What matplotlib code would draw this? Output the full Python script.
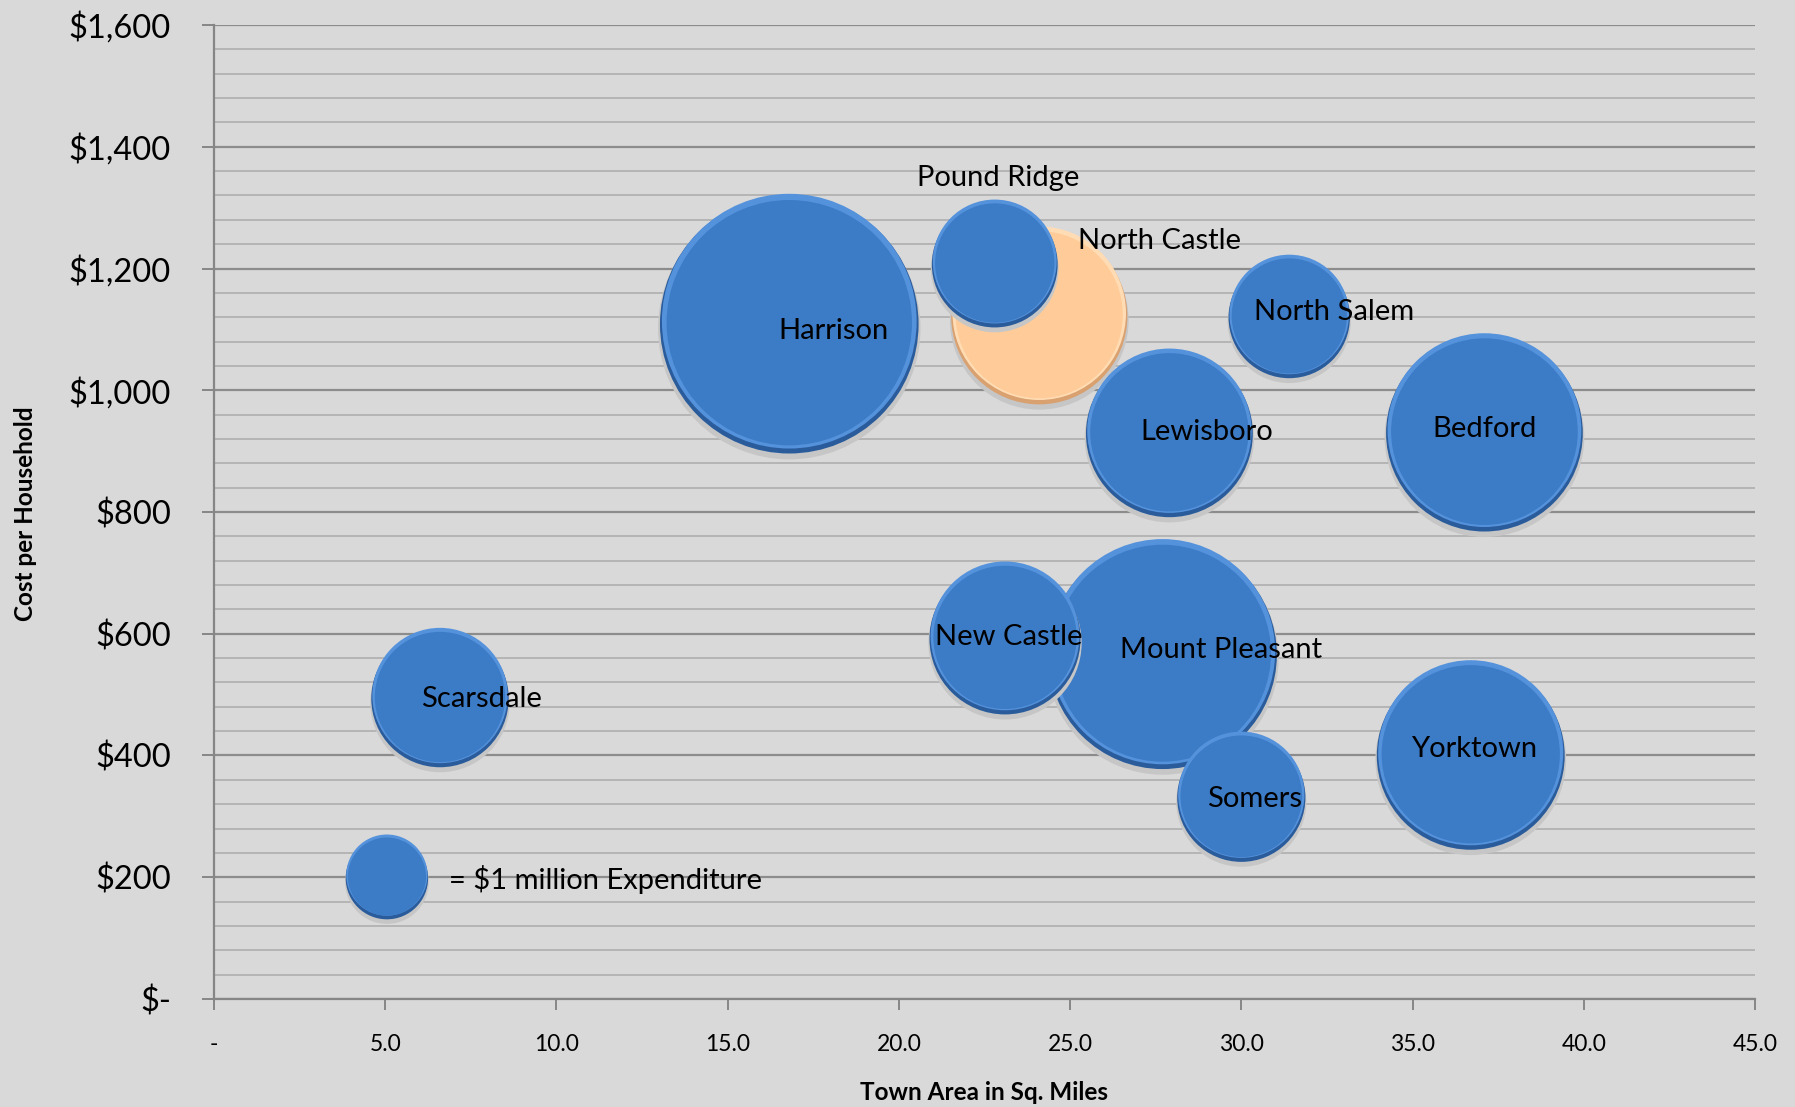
import matplotlib
matplotlib.use("Agg")
import matplotlib.pyplot as plt
import numpy as np
from matplotlib.ticker import MultipleLocator, FuncFormatter

plt.rcParams['font.family'] = ['Lato', 'DejaVu Sans']

# town data: area (sq. miles), cost per household ($), expenditure ($ million)
towns = ['Harrison', 'Mount Pleasant', 'Bedford', 'Yorktown', 'North Castle',
         'Lewisboro', 'New Castle', 'Scarsdale', 'Somers', 'Pound Ridge', 'North Salem']
area = [16.8, 27.7, 37.1, 36.7, 24.1, 27.9, 23.1, 6.6, 30.0, 22.8, 31.4]
cost = [1111, 568, 932, 402, 1124, 931, 594, 496, 333, 1209, 1122]
spend = [9.85, 7.7, 5.7, 5.2, 4.57, 4.1, 3.36, 2.78, 2.42, 2.33, 2.17]
highlight = 'North Castle'

# label positions
label_x = [18.1, 29.4, 37.1, 36.8, 27.6, 29.0, 23.2, 7.8, 30.4, 22.9, 32.7]
label_y = [1098, 573, 936, 410, 1245, 932, 594, 493, 329, 1348, 1128]

# reference bubble
ref_x, ref_y, ref_size = 5.05, 201, 1.0

# (dark rim, light rim, face)
blue_cols = ('#2a5c9c', '#5592dc', '#3c7bc6')
orange_cols = ('#d9a070', '#ffdcb4', '#ffcc99')
s_per_million = 3520


def bubble(ax, x, y, s, cols, z):
    ax.scatter(x, y - 9, s=s * 1.03, color='#c6c6c6', edgecolors='none', zorder=z)
    ax.scatter(x, y - 2.5, s=s, color=cols[0], edgecolors='none', zorder=z + 0.1)
    ax.scatter(x, y + 2.5, s=s * 0.97, color=cols[1], edgecolors='none', zorder=z + 0.2)
    ax.scatter(x, y, s=s * 0.9, color=cols[2], edgecolors='none', zorder=z + 0.3)


fig = plt.figure(figsize=(17.95, 11.07), dpi=100)
fig.patch.set_facecolor('#d9d9d9')
ax = fig.add_axes([0.1192, 0.0976, 0.8585, 0.8798])
ax.set_facecolor('#d9d9d9')

ax.set_xlim(0, 45)
ax.set_ylim(0, 1600)

ax.yaxis.set_major_locator(MultipleLocator(200))
ax.yaxis.set_minor_locator(MultipleLocator(40))
ax.xaxis.set_major_locator(MultipleLocator(5))
ax.grid(True, which='major', axis='y', color='#8c8c8c', lw=1.6, zorder=0)
ax.grid(True, which='minor', axis='y', color='#b4b4b4', lw=1.4, zorder=0)
ax.set_axisbelow(True)

for sp in ['top', 'right']:
    ax.spines[sp].set_visible(False)
for sp in ['left', 'bottom']:
    ax.spines[sp].set_color('#868686')
    ax.spines[sp].set_linewidth(1.6)

ax.yaxis.set_major_formatter(FuncFormatter(lambda v, p: '$-' if v == 0 else '${:,.0f}'.format(v)))
ax.xaxis.set_major_formatter(FuncFormatter(lambda v, p: '-' if v == 0 else '{:.1f}'.format(v)))
ax.tick_params(axis='y', which='major', length=9, width=1.4, color='#868686', labelsize=23.5, pad=22)
ax.tick_params(axis='y', which='minor', length=0)
ax.tick_params(axis='x', which='major', length=8, width=1.4, color='#868686', labelsize=16.5, pad=17)

ax.set_ylabel('Cost per Household', fontsize=17.5, fontweight='bold')
ax.set_xlabel('Town Area in Sq. Miles', fontsize=17.5, fontweight='bold')
ax.yaxis.set_label_coords(-0.1226, 0.498)
ax.xaxis.set_label_coords(0.5, -0.0965)
ax.xaxis.label.set_va('center')
ax.yaxis.label.set_va('center')

order = np.argsort(spend)[::-1]
z = 3
for i in order:
    cols = orange_cols if towns[i] == highlight else blue_cols
    bubble(ax, area[i], cost[i], spend[i] * s_per_million, cols, z)
    z += 1

bubble(ax, ref_x, ref_y, ref_size * s_per_million, blue_cols, z)

for i in range(len(towns)):
    ax.text(label_x[i], label_y[i], towns[i], fontsize=21, ha='center', va='center', zorder=50)
ax.text(6.85, 197, '= $1 million Expenditure', fontsize=21, ha='left', va='center', zorder=50)

fig.savefig('out.png', dpi=100, facecolor=fig.get_facecolor())
